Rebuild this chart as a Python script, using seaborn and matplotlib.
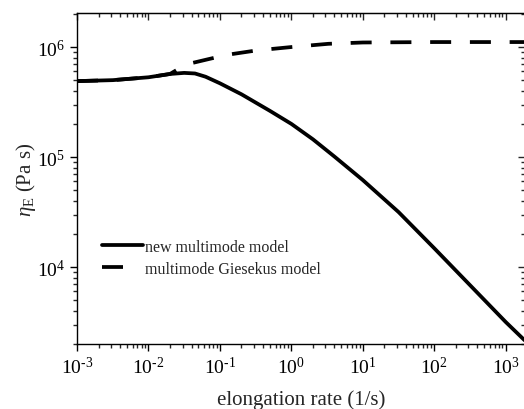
# Elongational viscosity vs elongation rate: new multimode model vs multimode Giesekus

import math
import pandas as pd
import matplotlib
matplotlib.use("Agg")
import matplotlib.pyplot as plt
import matplotlib.ticker as mticker
import seaborn as sns

# Values
rate_new = [1e-3, 3.16e-3, 1e-2, 2e-2, 3.16e-2, 4.47e-2, 6.3e-2, 1e-1, 2e-1, 5e-1,
            1e0, 2e0, 4e0, 1e1, 3.16e1, 1e2, 1e3, 1.86e3]
eta_new = [4.9e5, 5.0e5, 5.31e5, 5.69e5, 5.82e5, 5.75e5, 5.37e5, 4.68e5, 3.72e5, 2.63e5,
           2.0e5, 1.45e5, 1.01e5, 6.17e4, 3.16e4, 1.48e4, 3.16e3, 2.14e3]

rate_gie = [1e-3, 3.16e-3, 1e-2, 2e-2, 2.5e-2, 3.8e-2, 6.9e-2, 1.26e-1, 3.2e-1,
            1e0, 3.3e0, 1e1, 1e2, 1.86e3]
eta_gie = [4.9e5, 5.0e5, 5.31e5, 5.69e5, 6.2e5, 7.08e5, 7.76e5, 8.5e5, 9.3e5,
           1.0e6, 1.07e6, 1.10e6, 1.11e6, 1.11e6]

labels = ["new multimode model", "multimode Giesekus model"]

x_ticks = [1e-3, 1e-2, 1e-1, 1e0, 1e1, 1e2, 1e3]
y_ticks = [1e4, 1e5, 1e6]

df = pd.concat([
    pd.DataFrame({"rate": rate_new, "eta": eta_new, "model": labels[0]}),
    pd.DataFrame({"rate": rate_gie, "eta": eta_gie, "model": labels[1]}),
])

sns.set_style("ticks")
plt.rcParams["font.family"] = ["Liberation Serif", "DejaVu Serif"]
plt.rcParams["mathtext.fontset"] = "custom"
plt.rcParams["mathtext.rm"] = "Liberation Serif"
plt.rcParams["mathtext.it"] = "Liberation Serif:italic"
plt.rcParams["axes.unicode_minus"] = False


def pow10(val, pos):
    # Origin-style label: 10 with a small hyphen exponent
    return r"$10^{\text{%d}}$" % int(round(math.log10(val)))


fig = plt.figure(figsize=(5.24, 4.10), dpi=100)
ax = fig.add_axes([0.147, 0.1585, 0.855, 0.8075])

sns.lineplot(data=df, x="rate", y="eta", style="model", ax=ax, color="black",
             linewidth=2.7, dashes=[(1, 0), (5.6, 5.0)], sort=False, legend=False)

ax.set_xscale("log")
ax.set_yscale("log")
ax.set_xlim(1e-3, 10 ** 3.27)
ax.set_ylim(10 ** 3.30, 10 ** 6.31)

for axis, ticks in ((ax.xaxis, x_ticks), (ax.yaxis, y_ticks)):
    axis.set_major_locator(mticker.FixedLocator(ticks))
    axis.set_minor_locator(mticker.LogLocator(base=10, subs=range(2, 10), numticks=20))
    axis.set_major_formatter(mticker.FuncFormatter(pow10))
    axis.set_minor_formatter(mticker.NullFormatter())

ax.tick_params(axis="both", which="major", direction="out", length=5, width=1,
               labelsize=14, colors="black")
ax.tick_params(axis="both", which="minor", direction="out", length=3, width=1)

# top and right axes with inward ticks, no labels
top = ax.secondary_xaxis("top")
right = ax.secondary_yaxis("right")
for sec, axis, ticks in ((top, top.xaxis, x_ticks), (right, right.yaxis, y_ticks)):
    axis.set_major_locator(mticker.FixedLocator(ticks))
    axis.set_minor_locator(mticker.LogLocator(base=10, subs=range(2, 10), numticks=20))
    axis.set_major_formatter(mticker.NullFormatter())
    axis.set_minor_formatter(mticker.NullFormatter())
    sec.tick_params(which="major", direction="in", length=5, width=1)
    sec.tick_params(which="minor", direction="in", length=3, width=1)

for sp in ax.spines.values():
    sp.set_linewidth(1.0)
    sp.set_color("black")

ax.set_xlabel("elongation rate (1/s)", fontsize=15, labelpad=9)
ax.set_ylabel(r"$\mathit{\eta}_{\mathrm{E}}$ (Pa s)", fontsize=15, labelpad=-1)

handles = [
    plt.Line2D([], [], color="black", linewidth=2.7),
    plt.Line2D([], [], color="black", linewidth=2.7, dashes=(5.6, 20)),
]
ax.legend(handles, labels, loc="upper left", bbox_to_anchor=(0.056, 0.317),
          frameon=False, fontsize=11.5, handlelength=2.55, handletextpad=0.15,
          labelspacing=0.35, borderpad=0, borderaxespad=0)

fig.savefig("out.png", dpi=100)
plt.close(fig)
